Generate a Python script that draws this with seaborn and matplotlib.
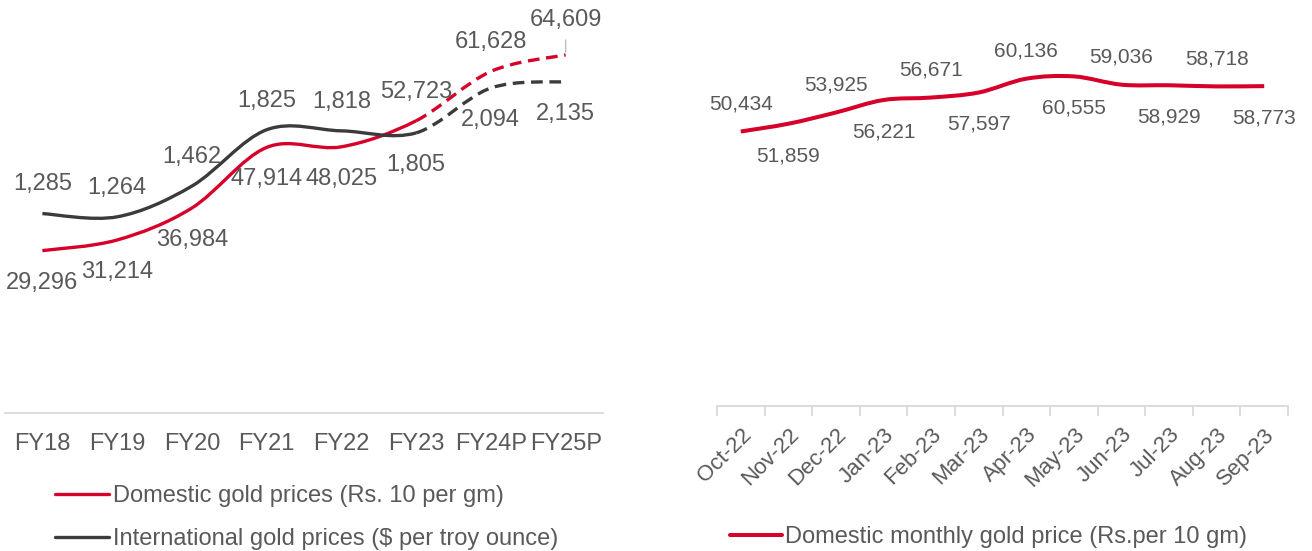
import numpy as np
import seaborn as sns
import matplotlib.pyplot as plt
from matplotlib.path import Path
from matplotlib.patches import PathPatch
from matplotlib.lines import Line2D

# ---- data ----
years = ["FY18", "FY19", "FY20", "FY21", "FY22", "FY23", "FY24P", "FY25P"]
domestic = [29296, 31214, 36984, 47914, 48025, 52723, 61628, 64609]
international = [1285, 1264, 1462, 1825, 1818, 1805, 2094, 2135]

months = ["Oct-22", "Nov-22", "Dec-22", "Jan-23", "Feb-23", "Mar-23",
          "Apr-23", "May-23", "Jun-23", "Jul-23", "Aug-23", "Sep-23"]
monthly = [50434, 51859, 53925, 56221, 56671, 57597,
           60136, 60555, 59036, 58929, 58718, 58773]

RED = "#D6002A"
DARK = "#3B3B3B"
TXT = "#595959"
AXC = "#D9D9D9"

sns.set_theme(style="white")
plt.rcParams["font.family"] = ["Liberation Sans", "DejaVu Sans"]


def smooth_path(y, start, stop):
    # excel-like smoothed line: bezier segments through the data points
    pts = np.column_stack([np.arange(len(y)), y]).astype(float)
    n = len(pts)
    verts = [pts[start]]
    codes = [Path.MOVETO]
    for i in range(start, stop):
        p0 = pts[max(i - 1, 0)]
        p1 = pts[i]
        p2 = pts[i + 1]
        p3 = pts[min(i + 2, n - 1)]
        verts += [p1 + (p2 - p0) / 6, p2 - (p3 - p1) / 6, p2]
        codes += [Path.CURVE4] * 3
    return Path(verts, codes)


def draw_smooth(ax, y, color, lw, start, stop, ls="-"):
    patch = PathPatch(smooth_path(y, start, stop), fill=False, edgecolor=color,
                      lw=lw, linestyle=ls, capstyle="butt", joinstyle="round")
    ax.add_patch(patch)


def label(ax, i, v, dy, size, **kw):
    ax.annotate(f"{v:,}", (i, v), xytext=(0, dy), textcoords="offset points",
                ha="center", va="center", fontsize=size, color=TXT, **kw)


fig = plt.figure(figsize=(13.12, 5.51), dpi=100)

# ---------- left panel ----------
ax = fig.add_axes([5 / 1312, 1 - 413 / 551, 598 / 1312, 388 / 551])
ax2 = ax.twinx()
ax.set_ylim(0, 70000)
ax2.set_ylim(0, 2500)
ax.set_xlim(-0.5, len(years) - 0.5)

draw_smooth(ax, domestic, RED, 2.4, 0, 5)
draw_smooth(ax, domestic, RED, 2.4, 5, 7, ls=(0, (3.5, 2)))
draw_smooth(ax2, international, DARK, 2.4, 0, 5)
draw_smooth(ax2, international, DARK, 2.4, 5, 7, ls=(0, (3.5, 2)))

for i, v in enumerate(domestic):
    if i == 7:
        label(ax, i, v, 25, 17,
              arrowprops=dict(arrowstyle="-", color="#BFBFBF", lw=1,
                              shrinkA=4, shrinkB=2))
    else:
        label(ax, i, v, -23 if i < 5 else 21, 17)
for i, v in enumerate(international):
    label(ax2, i, v, 21 if i < 5 else -23, 17)

ax.set_xticks(range(len(years)))
ax.set_xticklabels(years, fontsize=17, color=TXT)
ax.tick_params(axis="x", length=0, pad=14.5)
ax.set_yticks([])
ax2.set_yticks([])
for s in ["top", "left", "right"]:
    ax.spines[s].set_visible(False)
for s in ax2.spines.values():
    s.set_visible(False)
ax.spines["bottom"].set_color(AXC)
ax.spines["bottom"].set_linewidth(1.3)

handles = [Line2D([], [], color=RED, lw=2.4, label="Domestic gold prices (Rs. 10 per gm)"),
           Line2D([], [], color=DARK, lw=2.4, label="International gold prices ($ per troy ounce)")]
fig.legend(handles=handles, loc="upper left", bbox_to_anchor=(55 / 1312, 1 - 485 / 551),
           frameon=False, fontsize=17, handlelength=2.3, handletextpad=0.15,
           borderpad=0, borderaxespad=0, labelspacing=0.88, labelcolor=TXT)

# ---------- right panel ----------
bx = fig.add_axes([717 / 1312, 1 - 406 / 551, 571 / 1312, 381 / 551])
bx.set_ylim(0, 70000)
bx.set_xlim(-0.5, len(months) - 0.5)
draw_smooth(bx, monthly, RED, 2.9, 0, len(monthly) - 1)
for i, v in enumerate(monthly):
    label(bx, i, v, 20 if i % 2 == 0 else -23, 15)

bx.set_xticks(np.arange(len(months) + 1) - 0.5, minor=False)
bx.set_xticklabels([""] * (len(months) + 1))
bx.set_xticks(range(len(months)), minor=True)
bx.set_xticklabels(months, minor=True, rotation=45, ha="right",
                   rotation_mode="anchor", fontsize=16, color=TXT)
bx.tick_params(axis="x", which="major", length=7, width=1.3, color=AXC, bottom=True)
bx.tick_params(axis="x", which="minor", length=0, pad=13, bottom=True)
bx.set_yticks([])
for s in ["top", "left", "right"]:
    bx.spines[s].set_visible(False)
bx.spines["bottom"].set_color(AXC)
bx.spines["bottom"].set_linewidth(1.3)

fig.legend(handles=[Line2D([], [], color=RED, lw=2.9,
                           label="Domestic monthly gold price (Rs.per 10 gm)")],
           loc="upper left", bbox_to_anchor=(730 / 1312, 1 - 526 / 551),
           frameon=False, fontsize=17, handlelength=2.2, handletextpad=0.15,
           borderpad=0, borderaxespad=0, labelcolor=TXT)

fig.savefig("out.png", dpi=100)
